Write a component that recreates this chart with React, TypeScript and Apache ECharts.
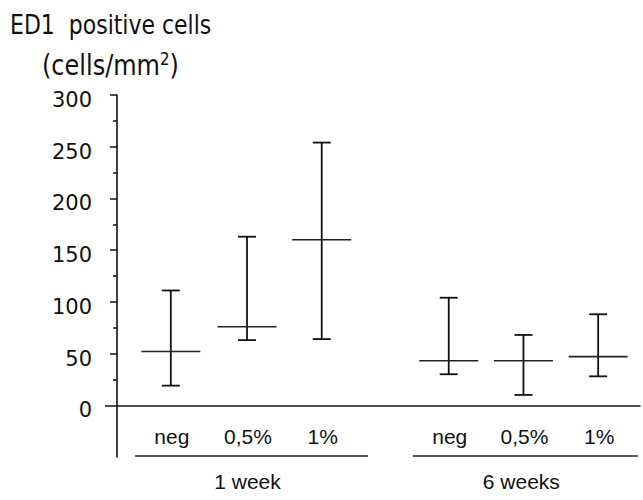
import React, { useEffect, useRef } from "react";
import * as echarts from "echarts";

const categories = ["neg", "0,5%", "1%", "neg", "0,5%", "1%"];
const xPositions = [0.72, 1.74, 2.74, 4.44, 5.44, 6.44];
const means = [52, 76, 160, 43, 43, 47];
const upper = [111, 163, 254, 104, 68, 88];
const lower = [19, 63, 64, 30, 10, 28];
const groups = ["1 week", "6 weeks"];
const groupStart = [0.24, 3.96];
const groupEnd = [3.36, 6.97];
const yTicks = [0, 50, 100, 150, 200, 250, 300];
const yMinorTicks = [25, 75, 125, 175, 225, 275];

const INK = "#111";
const LABEL_FONT = "'DejaVu Sans', sans-serif";
const CAT_FONT = "'Liberation Sans', Arial, sans-serif";

export default function App() {
  const ref = useRef<HTMLDivElement>(null);
  useEffect(() => {
    if (!ref.current) return;
    const chart = echarts.init(ref.current, null, { renderer: "svg" });
    const errData = xPositions.map((x, i) => [x, means[i], lower[i], upper[i], i]);
    const groupData = groups.map((g, i) => [groupStart[i], groupEnd[i], i]);
    const baseY = {
      type: "value",
      min: -50,
      max: 300,
      interval: 50,
      position: "left",
      splitLine: { show: false },
    };
    chart.setOption({
      animation: false,
      backgroundColor: "#fff",
      grid: { left: 117, right: 3, top: 95, bottom: 43, containLabel: false },
      graphic: [
        {
          type: "text",
          x: 10,
          y: 25,
          scaleY: 1.2,
          style: { text: "ED1  positive cells", font: `22px ${LABEL_FONT}`, fill: INK, verticalAlign: "middle" },
        },
        {
          type: "text",
          x: 42,
          y: 65,
          scaleY: 1.15,
          style: {
            text: "(cells/mm{sup|2})",
            font: `24px ${LABEL_FONT}`,
            fill: INK,
            verticalAlign: "middle",
            rich: { sup: { fontSize: 15, verticalAlign: "top", padding: [0, 0, 10, 0], fontFamily: LABEL_FONT } },
          },
        },
      ],
      xAxis: {
        type: "value",
        min: 0,
        max: 7,
        axisLine: { show: true, onZero: true, lineStyle: { color: INK, width: 1.5 } },
        axisTick: { show: false },
        splitLine: { show: false },
        axisLabel: { show: false },
      },
      yAxis: [
        {
          ...baseY,
          axisLine: { show: true, lineStyle: { color: INK, width: 1.6 } },
          axisTick: { show: true, customValues: yTicks.filter((v) => v > 0), length: 7, lineStyle: { color: INK, width: 1.5 } },
          axisLabel: {
            customValues: yTicks,
            margin: 25,
            formatter: (v: number) => `{v|${v}}`,
            rich: {
              v: { fontFamily: LABEL_FONT, fontSize: 21, color: INK, padding: [10, 0, 0, 0] },
            },
          },
        },
        {
          ...baseY,
          axisLine: { show: false },
          axisTick: { show: true, customValues: yMinorTicks, length: 4, lineStyle: { color: INK, width: 1.5 } },
          axisLabel: { show: false },
        },
        {
          ...baseY,
          axisLine: { show: false },
          axisTick: { show: true, customValues: [0], length: 12, lineStyle: { color: INK, width: 1.5 } },
          axisLabel: { show: false },
        },
      ],
      series: [
        {
          type: "custom",
          xAxisIndex: 0,
          yAxisIndex: 0,
          clip: false,
          data: errData,
          renderItem: (params: any, api: any) => {
            const x = api.value(0);
            const m = api.coord([x, api.value(1)]);
            const lo = api.coord([x, api.value(2)]);
            const hi = api.coord([x, api.value(3)]);
            const base = api.coord([x, 0]);
            const style = { stroke: INK, lineWidth: 1.8 };
            const meanStyle = { stroke: "#222", lineWidth: 1.6 };
            const cap = 9;
            const half = 29.5;
            return {
              type: "group",
              children: [
                { type: "line", shape: { x1: hi[0], y1: hi[1], x2: lo[0], y2: lo[1] }, style },
                { type: "line", shape: { x1: hi[0] - cap, y1: hi[1], x2: hi[0] + cap, y2: hi[1] }, style },
                { type: "line", shape: { x1: lo[0] - cap, y1: lo[1], x2: lo[0] + cap, y2: lo[1] }, style },
                { type: "line", shape: { x1: m[0] - half, y1: m[1], x2: m[0] + half, y2: m[1] }, style: meanStyle },
                {
                  type: "text",
                  x: base[0] + 1,
                  y: base[1] + 31,
                  style: {
                    text: categories[api.value(4)],
                    font: `21px ${CAT_FONT}`,
                    fill: INK,
                    align: "center",
                    verticalAlign: "middle",
                  },
                },
              ],
            };
          },
        },
        {
          type: "custom",
          xAxisIndex: 0,
          yAxisIndex: 0,
          clip: false,
          data: groupData,
          renderItem: (params: any, api: any) => {
            const a = api.coord([api.value(0), -50]);
            const b = api.coord([api.value(1), -50]);
            const label = groups[api.value(2)];
            return {
              type: "group",
              children: [
                { type: "line", shape: { x1: a[0], y1: a[1] - 1, x2: b[0], y2: b[1] - 1 }, style: { stroke: "#222", lineWidth: 1.6 } },
                {
                  type: "text",
                  x: (a[0] + b[0]) / 2 - 4,
                  y: a[1] + 24,
                  style: {
                    text: label,
                    font: `21px ${CAT_FONT}`,
                    fill: INK,
                    align: "center",
                    verticalAlign: "middle",
                  },
                },
              ],
            };
          },
        },
      ],
    });
    return () => chart.dispose();
  }, []);
  return <div ref={ref} style={{ width: 643, height: 500, position: "absolute", left: 0, top: 0 }} />;
}
